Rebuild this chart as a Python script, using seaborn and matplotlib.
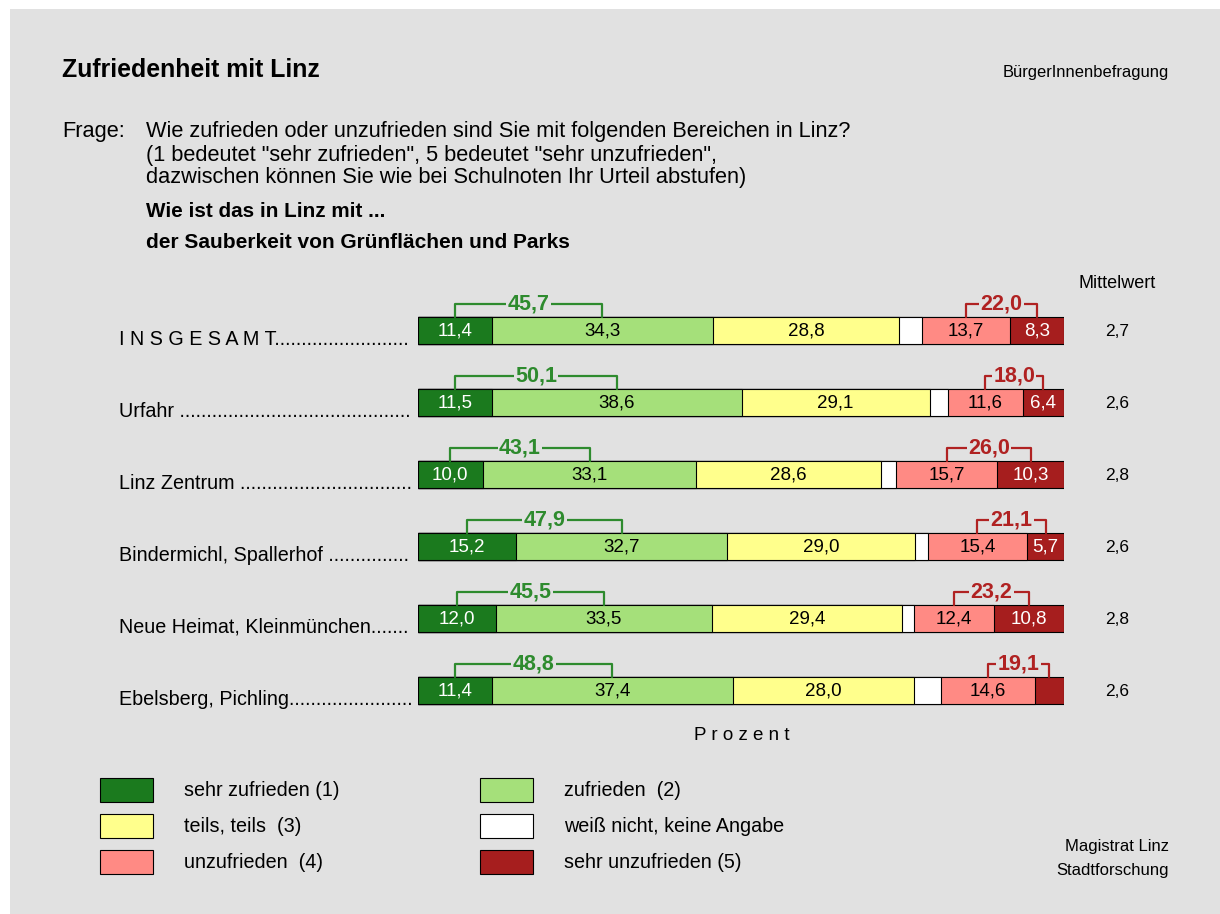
import pandas as pd
import seaborn as sns
import matplotlib.pyplot as plt
from matplotlib import transforms
from matplotlib.patches import Rectangle

rows = ["I N S G E S A M T", "Urfahr ", "Linz Zentrum ", "Bindermichl, Spallerhof ",
        "Neue Heimat, Kleinmünchen", "Ebelsberg, Pichling"]
sehr_zufrieden = [11.4, 11.5, 10.0, 15.2, 12.0, 11.4]
zufrieden = [34.3, 38.6, 33.1, 32.7, 33.5, 37.4]
teils = [28.8, 29.1, 28.6, 29.0, 29.4, 28.0]
weiss_nicht = [3.5, 2.8, 2.3, 2.0, 1.9, 4.1]
unzufrieden = [13.7, 11.6, 15.7, 15.4, 12.4, 14.6]
sehr_unzufrieden = [8.3, 6.4, 10.3, 5.7, 10.8, 4.5]
mittelwert = [2.7, 2.6, 2.8, 2.6, 2.8, 2.6]

cats = ["sehr zufrieden (1)", "zufrieden  (2)", "teils, teils  (3)",
        "weiß nicht, keine Angabe", "unzufrieden  (4)", "sehr unzufrieden (5)"]
colors = ["#1b7a1e", "#a5e07a", "#ffff8c", "#ffffff", "#ff8a84", "#a61e1e"]
text_colors = ["white", "black", "black", None, "black", "white"]
GREEN = "#2e8b2e"
RED = "#b02222"
BG = "#e1e1e1"
W, H = 1220, 914


def fx(px):
    return px / W


def fy(py):
    return 1 - py / H


def num(v):
    return f"{v:.1f}".replace(".", ",")


df = pd.DataFrame({"Gebiet": rows, cats[0]: sehr_zufrieden, cats[1]: zufrieden,
                   cats[2]: teils, cats[3]: weiss_nicht, cats[4]: unzufrieden,
                   cats[5]: sehr_unzufrieden})
cum = df[cats].cumsum(axis=1)
cum["Gebiet"] = df["Gebiet"]

sns.set_theme(style="white")
plt.rcParams["font.family"] = ["Liberation Sans", "DejaVu Sans"]
plt.rcParams["text.color"] = "black"

fig = plt.figure(figsize=(12.2, 9.14), dpi=100)
fig.patch.set_facecolor("white")
fig.add_artist(Rectangle((fx(10), 0), 1 - fx(10), fy(9), transform=fig.transFigure,
                         facecolor=BG, edgecolor="none", zorder=-10))

ax = fig.add_axes([fx(418), fy(726), fx(1064) - fx(418), 432 / H])
for cat, col in reversed(list(zip(cats, colors))):
    sns.barplot(data=cum, x=cat, y="Gebiet", orient="h", color=col, saturation=1,
                width=0.375, edgecolor="black", linewidth=0.8, ax=ax)
ax.set_xlim(0, 100)
ax.set_ylim(5.5, -0.5)
ax.axis("off")
ax.patch.set_visible(False)

half = 0.1875
for i in range(len(rows)):
    left = 0
    for cat, tc in zip(cats, text_colors):
        v = df.loc[i, cat]
        if tc is not None and v >= 5:
            ax.text(left + v / 2, i + 0.01, num(v), ha="center", va="center",
                    color=tc, fontsize=13.5)
        left += v

    top = i - 0.36
    s1, s2 = df.loc[i, cats[0]], df.loc[i, cats[1]]
    gl, gr = s1 / 2, s1 + s2 / 2
    ax.plot([gl, gl, gr, gr], [i - half, top, top, i - half], color=GREEN, lw=1.6,
            clip_on=False)
    ax.text((gl + gr) / 2, top, num(s1 + s2), ha="center", va="center",
            color=GREEN, fontsize=15.5, fontweight="bold",
            bbox=dict(facecolor=BG, edgecolor="none", pad=1))

    s4, s5 = df.loc[i, cats[4]], df.loc[i, cats[5]]
    start4 = cum.loc[i, cats[3]]
    rl, rr = start4 + s4 / 2, start4 + s4 + s5 / 2
    ax.plot([rl, rl, rr, rr], [i - half, top, top, i - half], color=RED, lw=1.6,
            clip_on=False)
    ax.text((rl + rr) / 2, top, num(s4 + s5), ha="center", va="center",
            color=RED, fontsize=15.5, fontweight="bold",
            bbox=dict(facecolor=BG, edgecolor="none", pad=1))

    ax.text(108.2, i + 0.02, num(mittelwert[i]), ha="center", va="center", fontsize=12.5,
            clip_on=False)

# row labels with dot leaders
renderer = fig.canvas.get_renderer()
trans = transforms.blended_transform_factory(fig.transFigure, ax.transData)
for i, name in enumerate(rows):
    t = fig.text(fx(119), i + half + 0.02, name, transform=trans, ha="left",
                 va="baseline", fontsize=14.2)
    label = name
    while True:
        t.set_text(label + ".")
        if t.get_window_extent(renderer).x1 > 413:
            t.set_text(label)
            break
        label += "."

# header texts
fig.text(fx(62), fy(70), "Zufriedenheit mit Linz", fontsize=17.9, fontweight="bold",
         ha="left", va="center")
fig.text(fx(1169), fy(73), "BürgerInnenbefragung", fontsize=11.9, ha="right", va="center")
fig.text(fx(62), fy(131), "Frage:", fontsize=15.7, ha="left", va="center")
question = ["Wie zufrieden oder unzufrieden sind Sie mit folgenden Bereichen in Linz?",
            "(1 bedeutet \"sehr zufrieden\", 5 bedeutet \"sehr unzufrieden\",",
            "dazwischen können Sie wie bei Schulnoten Ihr Urteil abstufen)"]
for line, y in zip(question, [131, 155, 177]):
    fig.text(fx(146), fy(y), line, fontsize=15.7, ha="left", va="center")
fig.text(fx(146), fy(211), "Wie ist das in Linz mit ...", fontsize=14.9, fontweight="bold",
         ha="left", va="center")
fig.text(fx(146), fy(242), "der Sauberkeit von Grünflächen und Parks", fontsize=15,
         fontweight="bold", ha="left", va="center")
fig.text(fx(1117), fy(283), "Mittelwert", fontsize=13, ha="center", va="center")
fig.text(fx(742), fy(736), "P r o z e n t", fontsize=13.5, ha="center", va="center")

# legend
legend_pos = [(100, 778), (480, 778), (100, 814), (480, 814), (100, 850), (480, 850)]
for (px, py), cat, col in zip(legend_pos, cats, colors):
    fig.add_artist(Rectangle((fx(px), fy(py + 24)), 53 / W, 24 / H,
                             transform=fig.transFigure, facecolor=col,
                             edgecolor="black", linewidth=0.8))
    fig.text(fx(px + 84), fy(py + 12), cat, fontsize=14.2, ha="left", va="center")

fig.text(fx(1169), fy(846), "Magistrat Linz", fontsize=12, ha="right", va="center")
fig.text(fx(1169), fy(870), "Stadtforschung", fontsize=12, ha="right", va="center")

fig.savefig("out.png", dpi=100, facecolor=fig.get_facecolor())
